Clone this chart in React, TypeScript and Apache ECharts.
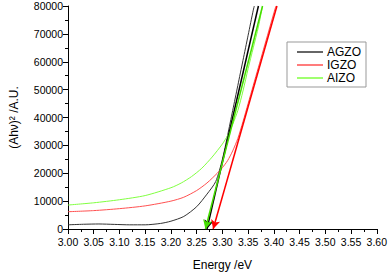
import React, { useEffect, useRef } from "react";
import * as echarts from "echarts";

const agzoX = [3.0, 3.03, 3.06, 3.09, 3.12, 3.15, 3.18, 3.2, 3.225, 3.25, 3.27, 3.287, 3.3, 3.31, 3.32, 3.33, 3.34, 3.35, 3.36, 3.362];
const agzoY = [1500, 1700, 1800, 1650, 1500, 1500, 2000, 2800, 4500, 8000, 12500, 17000, 25000, 33500, 42500, 51500, 60500, 69500, 78500, 80000];

const igzoX = [3.0, 3.05, 3.1, 3.15, 3.2, 3.225, 3.25, 3.27, 3.29, 3.3, 3.31, 3.32, 3.33, 3.34, 3.35, 3.36, 3.37, 3.38, 3.39, 3.4, 3.404];
const igzoY = [6200, 6600, 7300, 8300, 10000, 11400, 13800, 16500, 20000, 22000, 24500, 28000, 32500, 38500, 45000, 51500, 58000, 64500, 71000, 77500, 80000];

const aizoX = [3.0, 3.05, 3.1, 3.15, 3.2, 3.22, 3.24, 3.26, 3.28, 3.3, 3.31, 3.32, 3.33, 3.34, 3.35, 3.36, 3.37, 3.378];
const aizoY = [8600, 9400, 10500, 12000, 14800, 16500, 18800, 21800, 25800, 30500, 33500, 37500, 42500, 49500, 57500, 65000, 72500, 80000];

// linear fits: [x at top, y at top], [x-intercept, 0]
const agzoFit = [[3.37, 80000], [3.27, 0]];
const igzoFit = [[3.406, 80000], [3.282, 0]];
const aizoFit = [[3.378, 80000], [3.267, 0]];

const names = ["AGZO", "IGZO", "AIZO"];
const curveColors = ["#333333", "#ff5050", "#80ff40"];
const fitColors = ["#000000", "#ff0000", "#44dd00"];

const zip = (xs: number[], ys: number[]) => xs.map((x, i) => [x, ys[i]]);

export default function App() {
  const ref = useRef<HTMLDivElement>(null);
  useEffect(() => {
    if (!ref.current) return;
    const chart = echarts.init(ref.current, null, { renderer: "svg" });
    const curves = [zip(agzoX, agzoY), zip(igzoX, igzoY), zip(aizoX, aizoY)];
    const fits = [agzoFit, igzoFit, aizoFit];
    const series: any[] = [];
    fits.forEach((f, i) => {
      series.push({
        type: "line",
        name: names[i] + " fit",
        data: [],
        silent: true,
        markLine: {
          silent: true,
          animation: false,
          symbol: ["none", "arrow"],
          symbolSize: [7, 9],
          label: { show: false },
          emphasis: { disabled: true },
          lineStyle: { color: fitColors[i], width: 1.5, type: "solid" },
          data: [[{ coord: f[0] }, { coord: f[1] }]],
        },
      });
    });
    curves.forEach((c, i) => {
      series.push({
        type: "line",
        name: names[i],
        data: c,
        symbol: "none",
        smooth: 0.25,
        lineStyle: { color: curveColors[i], width: 1 },
        itemStyle: { color: curveColors[i] },
      });
    });
    chart.setOption({
      animation: false,
      textStyle: { fontFamily: "Liberation Sans, Arial, sans-serif" },
      grid: { left: 61, right: 11, top: 6, bottom: 38, containLabel: false },
      legend: {
        data: names,
        orient: "vertical",
        left: 287,
        top: 42,
        padding: [4, 5, 3, 10],
        itemGap: 1,
        itemWidth: 26,
        itemHeight: 1.5,
        icon: "rect",
        borderColor: "#999",
        borderWidth: 1,
        textStyle: { fontSize: 12, color: "#000", padding: [0, 0, 0, -1] },
        selectedMode: false,
      },
      xAxis: {
        type: "value",
        min: 3.0,
        max: 3.6,
        interval: 0.05,
        name: "Energy /eV",
        nameLocation: "middle",
        nameGap: 30,
        nameTextStyle: { fontSize: 12, color: "#000" },
        axisLine: { lineStyle: { color: "#000", width: 1 } },
        axisTick: { length: 5, inside: false, lineStyle: { color: "#000" } },
        minorTick: { show: true, splitNumber: 2, length: 3, lineStyle: { color: "#000" } },
        axisLabel: { fontSize: 10.5, color: "#000", margin: 7, formatter: (v: number) => v.toFixed(2) },
        splitLine: { show: false },
      },
      yAxis: {
        type: "value",
        min: 0,
        max: 80000,
        interval: 10000,
        name: "(Ahν)² /A.U.",
        nameLocation: "middle",
        nameGap: 48,
        nameRotate: 90,
        nameTextStyle: { fontSize: 12, color: "#000" },
        axisLine: { show: true, lineStyle: { color: "#000", width: 1 } },
        axisTick: { show: true, length: 5, lineStyle: { color: "#000" } },
        minorTick: { show: true, splitNumber: 2, length: 3, lineStyle: { color: "#000" } },
        axisLabel: { fontSize: 10.5, color: "#000", margin: 5, formatter: (v: number) => String(v) },
        splitLine: { show: false },
      },
      series,
    });
    return () => chart.dispose();
  }, []);
  return <div ref={ref} style={{ position: "absolute", left: 0, top: 0, width: 390, height: 276 }} />;
}
